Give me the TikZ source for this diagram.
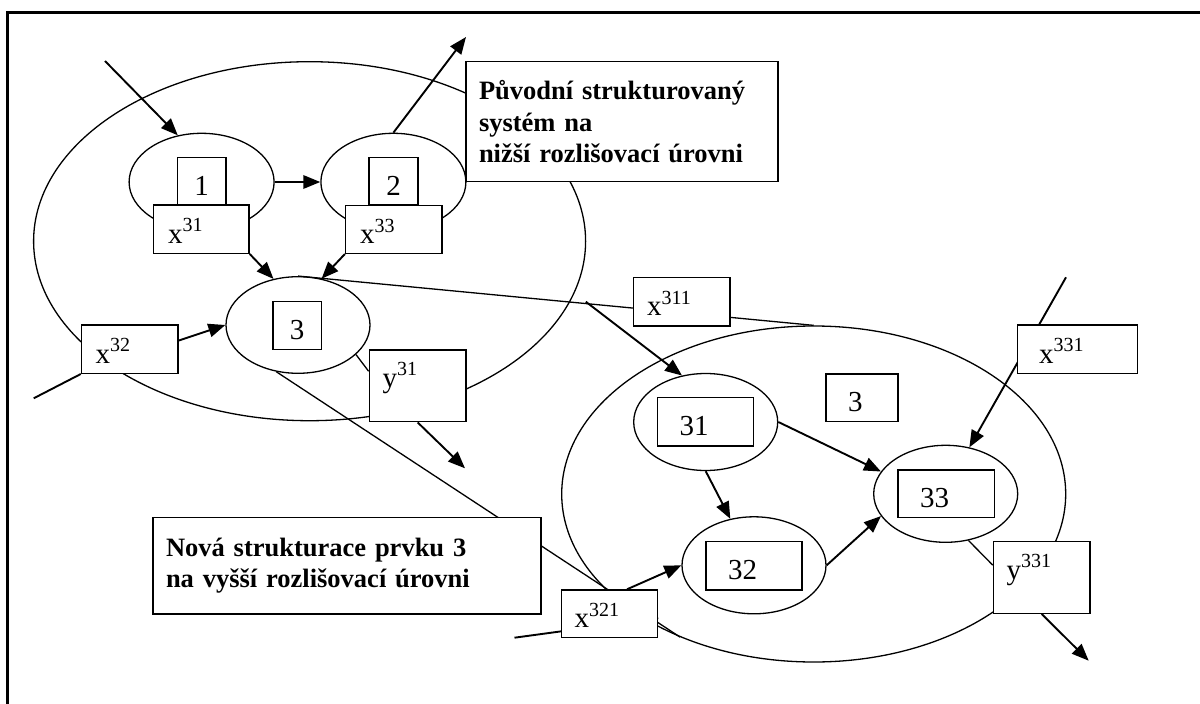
\documentclass[tikz,border=0pt]{standalone}
\usepackage{fontspec}
\setmainfont{Liberation Serif}
\newcommand\supnum[1]{\raisebox{11.5pt}{\fontsize{20}{20}\selectfont #1}}
\usetikzlibrary{shapes.geometric,arrows.meta,calc}
\pgfdeclarelayer{back}
\pgfdeclarelayer{bg}
\pgfsetlayers{back,bg,main}
\begin{document}
\begin{tikzpicture}[x=1pt,y=-1pt,
  ell/.style={draw, ellipse, line width=1.3pt, inner sep=0pt, minimum width=144pt, minimum height=97pt},
  box/.style={draw, fill=white, line width=1.4pt, rectangle, inner sep=0pt},
  lab/.style={box, font=\fontsize{29}{30}\selectfont, align=left},
  xlab/.style={lab, text height=28pt, text depth=0pt},
  ylab/.style={lab, text height=18pt, text depth=15pt},
  dig/.style={lab, text height=28pt, text depth=0pt},
  note/.style={box, align=left, inner xsep=13pt, font=\bfseries\fontsize{26.5}{31.5}\selectfont},
  arr/.style={line width=1.9pt, -{Triangle[length=17pt,width=13.5pt]}},
  wire/.style={line width=1.9pt},
  fine/.style={line width=1.3pt}
]
\useasboundingbox (0,0) rectangle (1200,704);
\begin{pgfonlayer}{back}
\fill[white] (0,0) rectangle (1200,704);
\end{pgfonlayer}
% frame
\draw[line width=3pt, line join=miter] (1200,12.5) -- (7.5,12.5) -- (7.5,704);

% ellipses
\node[ell, minimum width=552pt, minimum height=359pt] (eA) at (309.6,241.2) {};
\node[ell, minimum width=145pt, minimum height=97.4pt] (e1) at (201.6,182) {};
\node[ell, minimum width=145pt, minimum height=97.4pt] (e2) at (393.4,182) {};
\node[ell, minimum width=144pt, minimum height=96.6pt] (e3) at (298,325) {};
\node[ell, minimum width=504pt, minimum height=336pt] (eB) at (813.7,494) {};
\node[ell] (e31) at (705.7,422) {};
\node[ell] (e32) at (754,565.3) {};
\node[ell] (e33) at (945.7,493.8) {};

% digit boxes
\node[dig, minimum width=48.7pt, minimum height=47.7pt, align=center] (b1) at (201.65,181.15) {1};
\node[dig, minimum width=48.7pt, minimum height=47.7pt, align=center] (b2) at (393.5,181.15) {2};
\node[dig, minimum width=48.6pt, minimum height=47.6pt, align=center] (b3) at (297.2,325.5) {3};
\node[dig, text width=28pt, inner xsep=22pt, minimum height=47.7pt] (b3B) at (862,397.85) {3};
\node[dig, text width=52.2pt, inner xsep=22pt, minimum height=48.7pt] (b31) at (705.6,421.65) {31};
\node[dig, text width=51.8pt, inner xsep=22pt, minimum height=48.3pt] (b32) at (753.9,565.85) {32};
\node[dig, text width=52.2pt, inner xsep=22pt, minimum height=47.7pt] (b33) at (946.1,493.85) {33};

% input / output boxes
\node[xlab, text width=66.3pt, inner xsep=14.7pt, minimum height=48.3pt] (x31) at (201.2,229.15) {x\supnum{31}};
\node[xlab, text width=67.6pt, inner xsep=14.4pt, minimum height=47.6pt] (x33) at (393.8,229.5) {x\supnum{33}};
\node[xlab, text width=68.5pt, inner xsep=14pt, minimum height=48.3pt] (x32) at (129.75,349.15) {x\supnum{32}};
\node[xlab, text width=69.5pt, inner xsep=13.5pt, minimum height=48.3pt] (x311) at (681.75,301.85) {x\supnum{311}};
\node[xlab, text width=77pt, inner xsep=21.6pt, minimum height=48.3pt] (x331) at (1077.5,349.15) {x\supnum{331}};
\node[xlab, text width=69.7pt, inner xsep=13.2pt, minimum height=47.7pt] (x321) at (609.45,613.85) {x\supnum{321}};
\node[ylab, text width=69.9pt, inner xsep=13.4pt, minimum height=71.7pt] (y31) at (417.65,385.85) {y\supnum{31}};
\node[ylab, text width=70pt, inner xsep=13.3pt, minimum height=71.6pt] (y331) at (1041.7,577.5) {y\supnum{331}};

% notes
\node[note, text width=286pt, minimum height=120pt] (n1) at (622,121.7)
  {Původní strukturovaný\\systém na\\nižší rozlišovací úrovni};
\node[note, text width=362pt, minimum height=96.5pt] (n2) at (347,565.75)
  {Nová strukturace prvku 3\\na vyšší rozlišovací úrovni};

% free ends
\coordinate (in1) at (105,61);
\coordinate (out2) at (466,37);
\coordinate (in32) at (33.7,398.3);
\coordinate (out31) at (465,468.3);
\coordinate (s311) at (585.8,301.7);
\coordinate (in331) at (1066,277.3);
\coordinate (out331) at (1088.7,660.7);
\coordinate (in321) at (514.5,637.7);

\begin{pgfonlayer}{bg}
\draw[arr] (in1) -- (e1.117);
\draw[arr] (e1.east) -- (e2.west);
\draw[arr] (e2.north) -- (out2);
\draw[arr] (x31.south east) -- (e3.118);
\draw[arr] (x33.south west) -- (e3.63);
\draw[arr] (x32.10) -- (e3.west);
\draw[wire] (in32) -- (x32.south west);
\draw[fine] (e3.-27) -- ($(y31.north west)!0.3!(y31.south west)$);
\draw[arr] (y31.south) -- (out31);
\draw[fine] (e3.north) -- (eB.north);
\draw[fine] (e3.-115) -- (eB.-133);
\draw[arr] (s311) -- (e31.117);
\draw[arr] (e31.east) -- (e33.161);
\draw[arr] (e31.south) -- (e32.117);
\draw[arr] (e32.east) -- (e33.199);
\draw[arr] (in331) -- (e33.63);
\draw[fine] (e33.-64) -- ($(y331.north west)!0.33!(y331.south west)$);
\draw[arr] (y331.south) -- (out331);
\draw[wire] (in321) -- (x321.-5);
\draw[arr] ($(x321.north west)!0.68!(x321.north east)$) -- (e32.west);
\end{pgfonlayer}
\end{tikzpicture}
\end{document}
